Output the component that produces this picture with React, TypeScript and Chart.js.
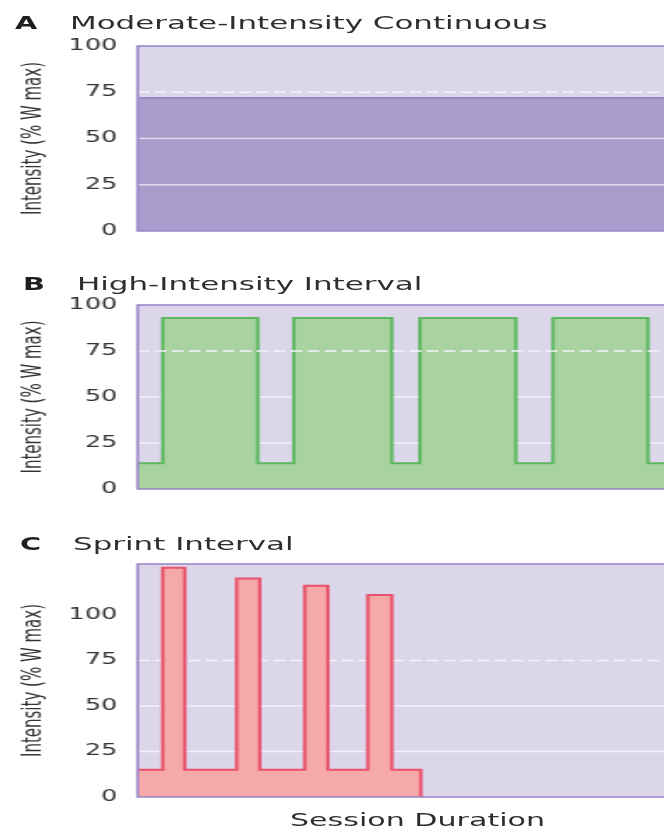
import React, { useEffect, useRef } from 'react';
import { Chart, registerables } from 'chart.js';

Chart.register(...registerables);

// ---------- data ----------
const panelLetters = ['A', 'B', 'C'];
const panelTitles = ['Moderate-Intensity Continuous', 'High-Intensity Interval', 'Sprint Interval'];
const yAxisTitle = 'Intensity (% W max)';
const xAxisTitle = 'Session Duration';
const yTickValues = [0, 25, 50, 75, 100];
const sessionMax = 54;

// A: moderate-intensity continuous
const micTimes = [0, 54];
const micIntensity = [72, 72];

// B: high-intensity interval
const hiitTimes = [0, 2.5, 12.0, 15.6, 25.4, 28.2, 37.8, 41.5, 51.0, 54];
const hiitIntensity = [14, 93, 14, 93, 14, 93, 14, 93, 14, 14];

// C: sprint interval
const sitTimes = [0, 2.5, 4.7, 9.9, 12.2, 16.7, 19.0, 23.0, 25.4, 28.3];
const sitIntensity = [15, 126, 15, 120, 15, 116, 15, 111, 15, 0];

const yMaxes = [100, 100, 128];

// ---------- styling ----------
const FONT = "'DejaVu Sans', sans-serif";
const STRETCH = 1.7;
const CANVAS_W = 399;
const BG = '#dcd6ea';
const BORDER = '#9d89ca';
const INSET = 21;

const panelStyles = [
  { fill: '#a99bcc', line: '#9480c2', width: 1.5, gridOver: true, dashOver: true, plotTop: 46, plotBottom: 231 },
  { fill: '#a8d3a0', line: '#5cb85f', width: 2, gridOver: false, dashOver: true, plotTop: 305, plotBottom: 489 },
  { fill: '#f6a9a9', line: '#e8516b', width: 2, gridOver: false, dashOver: false, plotTop: 564, plotBottom: 797 },
];

const decoPlugin = {
  id: 'panelDeco',
  beforeDraw(chart: any) {
    const { ctx, chartArea: a } = chart;
    ctx.save();
    ctx.fillStyle = BG;
    ctx.fillRect(a.left, a.top, a.right - a.left, a.bottom - a.top);
    ctx.restore();
  },
  beforeDatasetsDraw(chart: any, _args: any, opts: any) {
    if (!opts.gridOver) drawSolid(chart, opts);
    if (!opts.dashOver) drawDash(chart);
  },
  afterDatasetsDraw(chart: any, _args: any, opts: any) {
    if (opts.gridOver) drawSolid(chart, opts);
    if (opts.dashOver) drawDash(chart);
    const { ctx, chartArea: a } = chart;
    ctx.save();
    ctx.strokeStyle = BORDER;
    ctx.lineWidth = 1.6;
    ctx.strokeRect(a.left, a.top, a.right - a.left, a.bottom - a.top);
    ctx.restore();
  },
};

function drawSolid(chart: any, opts: any) {
  const { ctx, chartArea: a, scales } = chart;
  ctx.save();
  ctx.strokeStyle = opts.gridOver ? 'rgba(245,242,250,0.75)' : '#f3f0f8';
  ctx.lineWidth = 1.5;
  [25, 50].forEach((v) => {
    const y = scales.y.getPixelForValue(v);
    ctx.beginPath();
    ctx.moveTo(a.left, y);
    ctx.lineTo(a.right, y);
    ctx.stroke();
  });
  ctx.restore();
}

function drawDash(chart: any) {
  const { ctx, chartArea: a, scales } = chart;
  ctx.save();
  ctx.strokeStyle = '#f5f2fa';
  ctx.lineWidth = 1.5;
  ctx.setLineDash([7, 3]);
  const y = scales.y.getPixelForValue(75);
  ctx.beginPath();
  ctx.moveTo(a.left, y);
  ctx.lineTo(a.right, y);
  ctx.stroke();
  ctx.restore();
}

function Panel({ idx, times, values }: { idx: number; times: number[]; values: number[] }) {
  const ref = useRef<HTMLCanvasElement | null>(null);
  const st = panelStyles[idx];
  const top = st.plotTop - INSET;
  const height = st.plotBottom - st.plotTop + 2 * INSET;
  useEffect(() => {
    if (!ref.current) return;
    const chart = new Chart(ref.current, {
      type: 'line',
      data: {
        datasets: [
          {
            data: times.map((t, i) => ({ x: t, y: values[i] })),
            stepped: idx === 0 ? false : 'before',
            fill: 'origin',
            backgroundColor: st.fill,
            borderColor: st.line,
            borderWidth: st.width,
            pointRadius: 0,
            tension: 0,
          },
        ],
      },
      options: {
        responsive: false,
        maintainAspectRatio: false,
        animation: false,
        layout: { padding: { top: 0, bottom: 0, left: 0, right: 0 } },
        plugins: {
          legend: { display: false },
          tooltip: { enabled: false },
          panelDeco: { gridOver: st.gridOver, dashOver: st.dashOver },
        } as any,
        scales: {
          x: { type: 'linear', min: 0, max: sessionMax, display: false },
          y: {
            type: 'linear',
            min: 0,
            max: yMaxes[idx],
            afterBuildTicks: (scale: any) => {
              scale.ticks = yTickValues.map((v) => ({ value: v }));
            },
            afterFit: (scale: any) => {
              scale.width = 81;
            },
            grid: { display: false, drawTicks: false },
            border: { display: false },
            ticks: {
              padding: 12,
              color: '#333333',
              font: { family: FONT, size: 15 },
              callback: (v: any) => String(v),
            },
            title: {
              display: true,
              text: yAxisTitle,
              color: '#333333',
              font: { family: FONT, size: 15 },
              padding: { top: 11, bottom: 0 },
            },
          },
        },
      },
      plugins: [decoPlugin as any],
    });
    return () => chart.destroy();
  }, []);
  return (
    <canvas
      ref={ref}
      width={CANVAS_W}
      height={height}
      style={{
        position: 'absolute',
        left: 0,
        top,
        width: CANVAS_W * STRETCH,
        height,
      }}
    />
  );
}

const letterPos = [
  { left: 15, cy: 23 },
  { left: 23, cy: 284 },
  { left: 20, cy: 544 },
];
const titleLeft = [70, 77, 73];

function Label({ text, left, cy, bold, size, scale }: any) {
  return (
    <div
      style={{
        position: 'absolute',
        left,
        top: cy - 10,
        lineHeight: '20px',
        height: 20,
        fontFamily: FONT,
        fontSize: size,
        fontWeight: bold ? 700 : 400,
        color: bold ? '#1e1e1e' : '#2e2e2e',
        whiteSpace: 'nowrap',
        transform: `scaleX(${scale})`,
        transformOrigin: 'left center',
      }}
    >
      {text}
    </div>
  );
}

export default function App() {
  return (
    <div
      style={{
        position: 'absolute',
        left: 0,
        top: 0,
        width: 664,
        height: 830,
        overflow: 'hidden',
        background: '#ffffff',
      }}
    >
      <Panel idx={0} times={micTimes} values={micIntensity} />
      <Panel idx={1} times={hiitTimes} values={hiitIntensity} />
      <Panel idx={2} times={sitTimes} values={sitIntensity} />
      {panelLetters.map((l, i) => (
        <Label key={'l' + i} text={l} left={letterPos[i].left} cy={letterPos[i].cy} bold size={18} scale={1.6} />
      ))}
      {panelTitles.map((t, i) => (
        <Label key={'t' + i} text={t} left={titleLeft[i]} cy={letterPos[i].cy} size={17} scale={1.82} />
      ))}
      <Label text={xAxisTitle} left={290} cy={820} size={17} scale={1.77} />
    </div>
  );
}
